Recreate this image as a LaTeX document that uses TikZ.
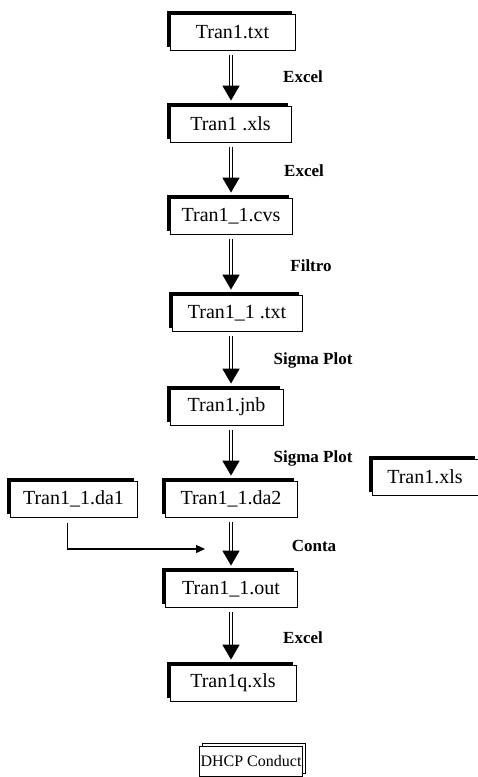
\documentclass[tikz,border=0pt]{standalone}
\usepackage{fontspec}
\setmainfont{Liberation Serif}
\usetikzlibrary{arrows.meta,shadows}

\tikzset{
  filebox/.style={draw, line width=0.8pt, fill=white, inner sep=0pt,
    minimum height=36pt, font=\fontsize{20}{24}\selectfont,
    drop shadow={shadow xshift=-3pt, shadow yshift=3pt, fill=black, opacity=1}},
  toollabel/.style={font=\fontsize{17}{20}\selectfont\bfseries},
  flow/.style={double, double distance=1.2pt, line width=1.7pt,
    shorten <=5pt, shorten >=5pt, -{Triangle[width=17pt,length=15pt]}},
  mergearrow/.style={line width=1.3pt, -{Triangle[width=8pt,length=9pt]}},
  notebox/.style={draw, line width=0.8pt, fill=white, inner sep=0pt,
    minimum height=30pt, font=\fontsize{16}{19}\selectfont,
    copy shadow={shadow xshift=2.5pt, shadow yshift=2.5pt, draw, line width=0.8pt, fill=white}}
}

\begin{document}
\begin{tikzpicture}[x=1pt, y=-1pt]
      \useasboundingbox (0,0) rectangle (478,777);
      \coordinate (axis) at (231,0);

      \begin{scope}[name prefix = file-]
         \node[filebox, minimum width=125pt] (txt) at (232.5, 32) {Tran1.txt};
         \node[filebox, minimum width=121pt] (xls) at (230.5, 124) {Tran1 .xls};
         \node[filebox, minimum width=122pt] (cvs) at (231, 216) {Tran1\_1.cvs};
         \node[filebox, minimum width=130pt] (txtb) at (237, 313) {Tran1\_1 .txt};
         \node[filebox, minimum width=113pt] (jnb) at (226.5, 407) {Tran1.jnb};
         \node[filebox, minimum width=106pt] (xlsb) at (425, 477) {Tran1.xls};
         \node[filebox, minimum width=127pt] (daa) at (73.5, 499) {Tran1\_1.da1};
         \node[filebox, minimum width=132pt] (dab) at (231, 499) {Tran1\_1.da2};
         \node[filebox, minimum width=132pt] (out) at (231, 589) {Tran1\_1.out};
         \node[filebox, minimum width=126pt] (xlsq) at (233, 683) {Tran1q.xls};
      \end{scope}

      \begin{scope}[name prefix = tool-]
         \node[toollabel] (excel1) at (303, 77) {Excel};
         \node[toollabel] (excel2) at (304, 171) {Excel};
         \node[toollabel] (filtro) at (311, 266) {Filtro};
         \node[toollabel] (sigma1) at (313, 360) {Sigma Plot};
         \node[toollabel] (sigma2) at (313, 458) {Sigma Plot};
         \node[toollabel] (conta) at (314, 546) {Conta};
         \node[toollabel] (excel3) at (303, 638) {Excel};
      \end{scope}

      \node[notebox, minimum width=103pt] (dhcp) at (251, 761) {DHCP Conduct};

      \coordinate (merge) at (205, 549);

      \begin{scope}
         \draw[flow] (file-txt.south -| axis) -- (file-xls.north -| axis);
         \draw[flow] (file-xls.south -| axis) -- (file-cvs.north -| axis);
         \draw[flow] (file-cvs.south -| axis) -- (file-txtb.north -| axis);
         \draw[flow] (file-txtb.south -| axis) -- (file-jnb.north -| axis);
         \draw[flow] (file-jnb.south -| axis) -- (file-dab.north -| axis);
         \draw[flow] (file-dab.south -| axis) -- (file-out.north -| axis);
         \draw[flow] (file-out.south -| axis) -- (file-xlsq.north -| axis);
         \draw[mergearrow] ([xshift=-6pt, yshift=-6pt]file-daa.south) |- (merge);
      \end{scope}
   \end{tikzpicture}
\end{document}
